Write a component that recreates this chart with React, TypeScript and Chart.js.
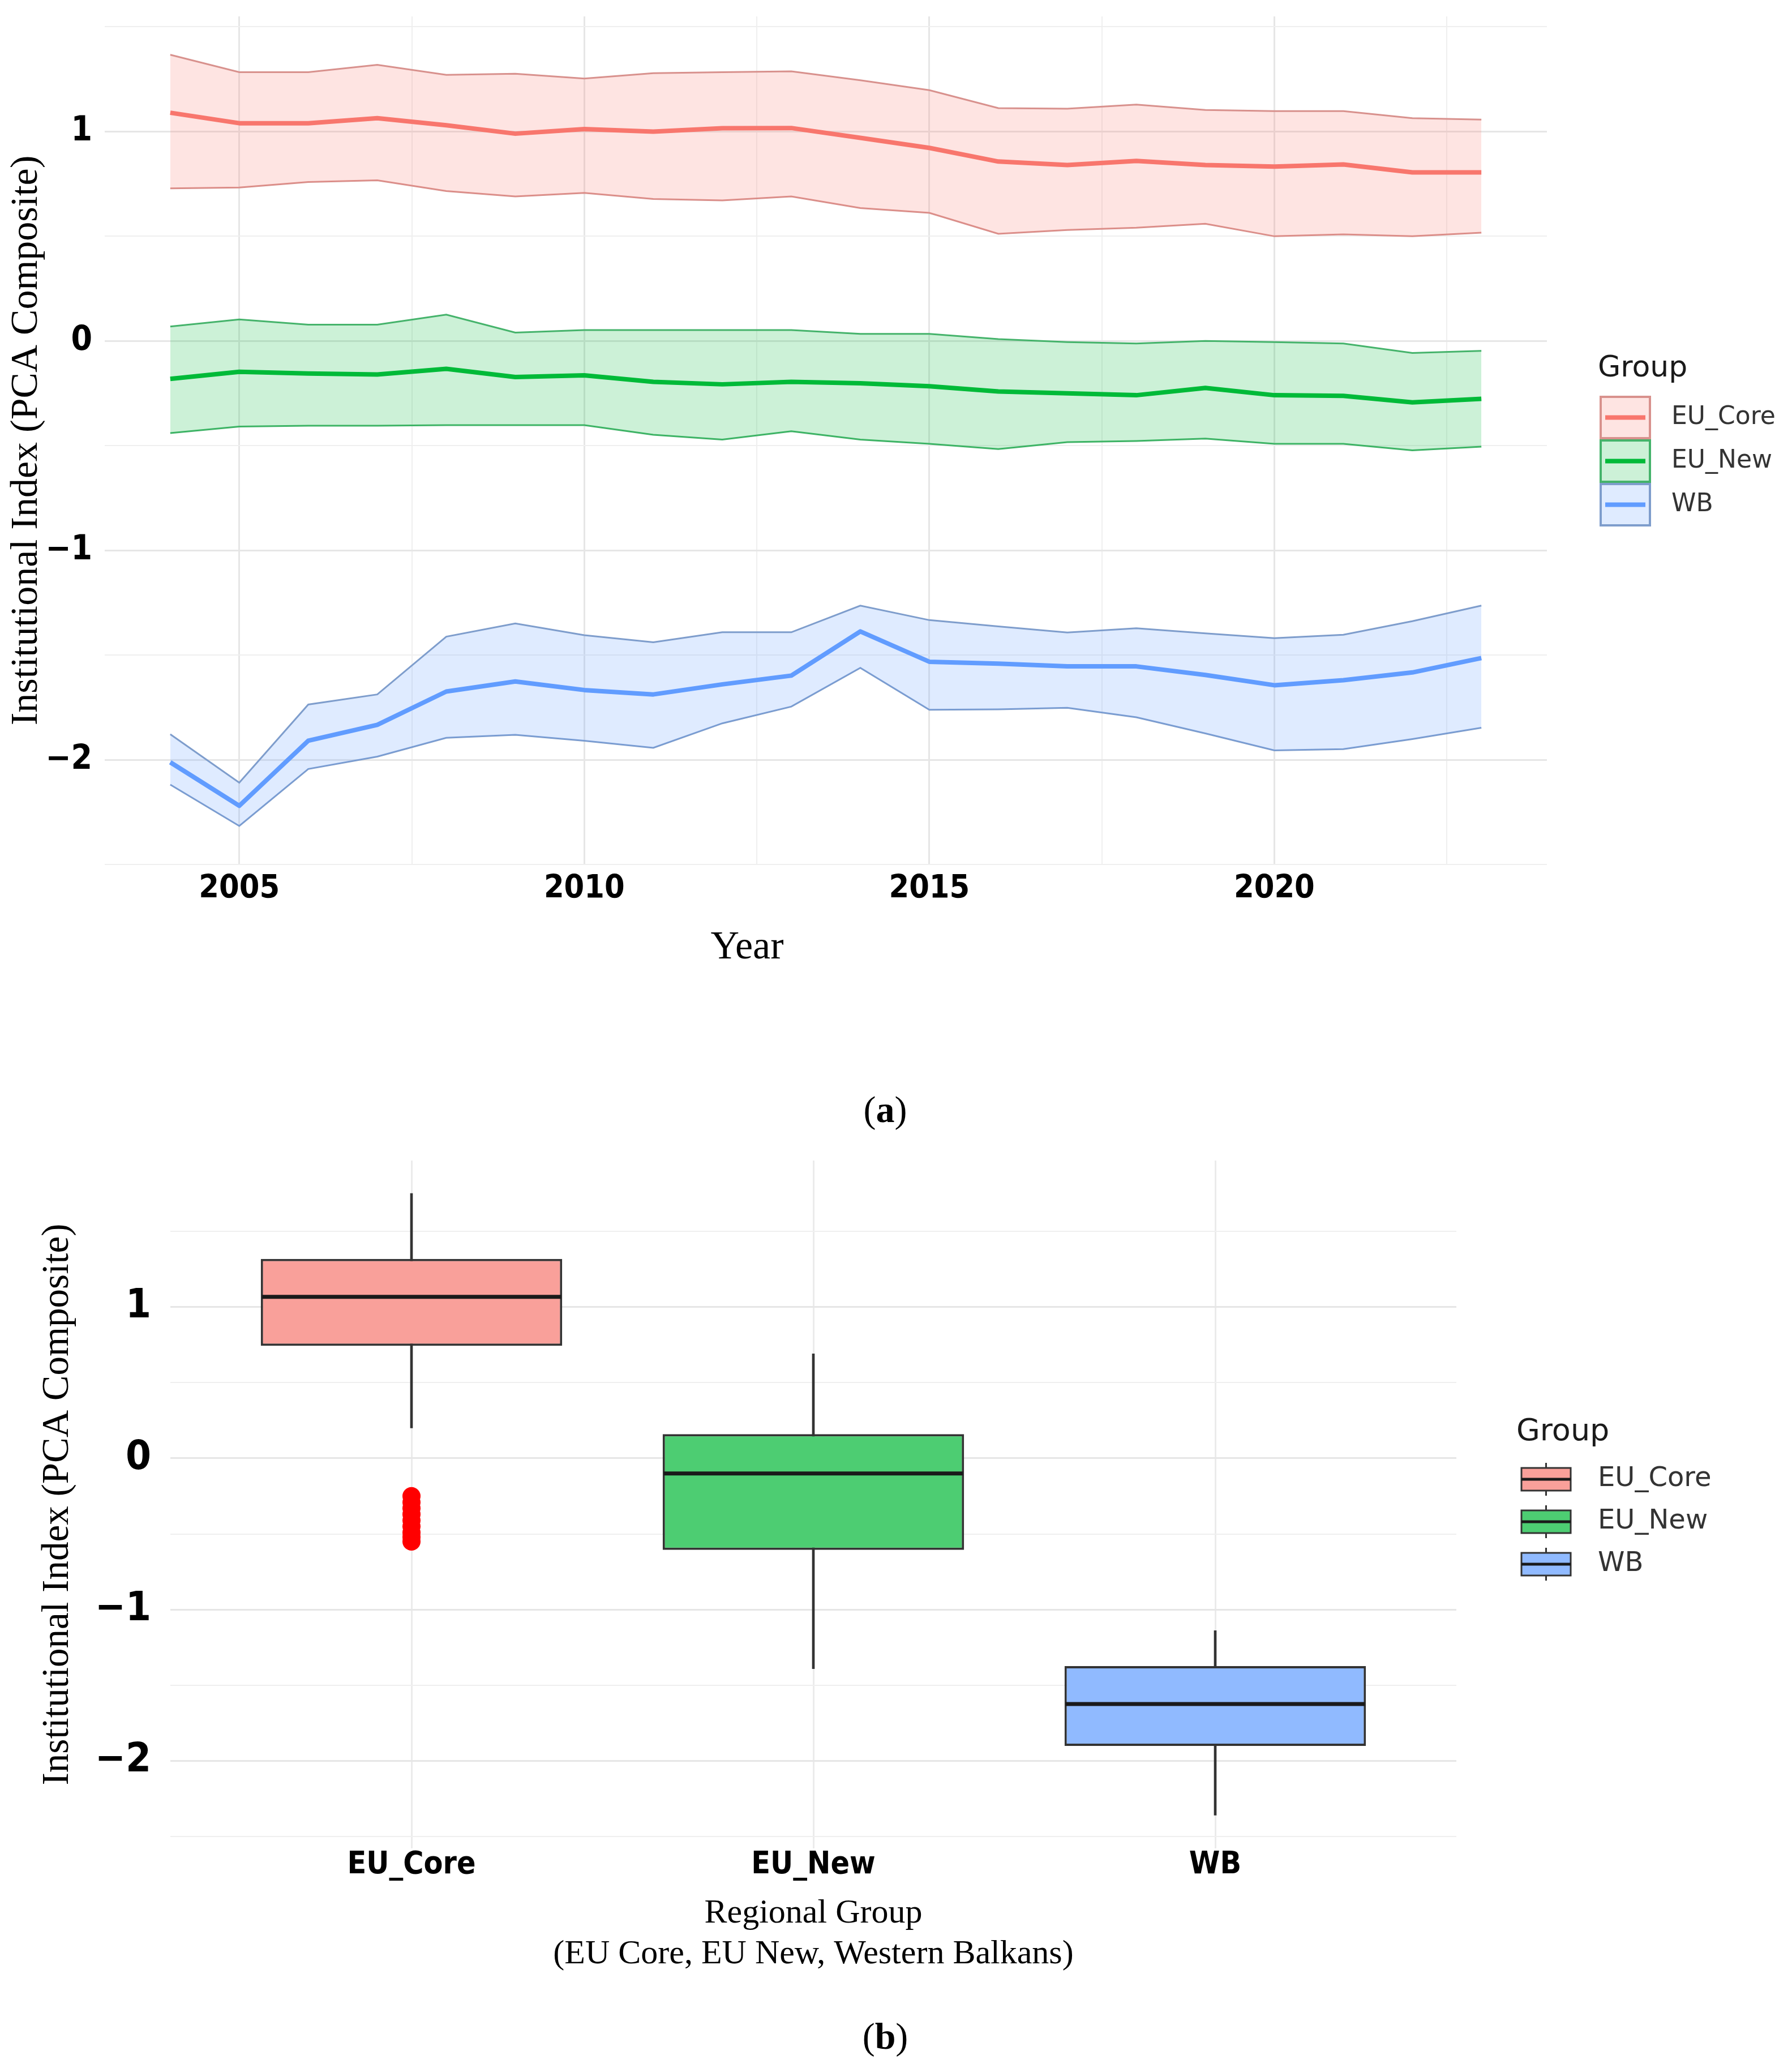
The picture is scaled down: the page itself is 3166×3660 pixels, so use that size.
import { useEffect, useRef } from 'react';
import { Chart, registerables } from 'chart.js';

Chart.register(...registerables);

// ---------- data ----------
const GROUPS = ['EU_Core', 'EU_New', 'WB'];
const LEGEND_TITLE = 'Group';
const Y_TITLE = 'Institutional Index (PCA Composite)';
const X_TITLE_A = 'Year';
const X_TITLE_B = ['Regional Group', '(EU Core, EU New, Western Balkans)'];

const YEARS = [2004, 2005, 2006, 2007, 2008, 2009, 2010, 2011, 2012, 2013, 2014, 2015, 2016, 2017, 2018, 2019, 2020, 2021, 2022, 2023];

const CORE_MEAN = [1.09, 1.04, 1.04, 1.064, 1.03, 0.99, 1.012, 1.0, 1.016, 1.017, 0.97, 0.922, 0.857, 0.84, 0.86, 0.84, 0.833, 0.843, 0.805, 0.805];
const CORE_UPPER = [1.367, 1.284, 1.284, 1.319, 1.271, 1.276, 1.253, 1.279, 1.284, 1.288, 1.245, 1.198, 1.112, 1.109, 1.129, 1.103, 1.098, 1.098, 1.064, 1.057];
const CORE_LOWER = [0.729, 0.733, 0.759, 0.767, 0.716, 0.69, 0.707, 0.678, 0.671, 0.69, 0.635, 0.612, 0.512, 0.53, 0.541, 0.56, 0.5, 0.509, 0.5, 0.517];

const NEW_MEAN = [-0.181, -0.147, -0.155, -0.16, -0.133, -0.172, -0.164, -0.195, -0.207, -0.195, -0.202, -0.216, -0.241, -0.25, -0.259, -0.224, -0.259, -0.262, -0.293, -0.276];
const NEW_UPPER = [0.069, 0.103, 0.078, 0.078, 0.126, 0.04, 0.052, 0.052, 0.052, 0.052, 0.034, 0.034, 0.009, -0.005, -0.012, 0.0, -0.005, -0.012, -0.057, -0.047];
const NEW_LOWER = [-0.44, -0.409, -0.405, -0.405, -0.402, -0.402, -0.402, -0.448, -0.471, -0.431, -0.471, -0.491, -0.516, -0.483, -0.478, -0.466, -0.491, -0.491, -0.522, -0.505];

const WB_MEAN = [-2.012, -2.22, -1.909, -1.833, -1.674, -1.626, -1.667, -1.688, -1.64, -1.598, -1.387, -1.532, -1.541, -1.554, -1.554, -1.595, -1.644, -1.62, -1.583, -1.514];
const WB_UPPER = [-1.878, -2.109, -1.736, -1.688, -1.412, -1.349, -1.405, -1.439, -1.391, -1.391, -1.264, -1.333, -1.363, -1.392, -1.372, -1.396, -1.419, -1.403, -1.338, -1.264];
const WB_LOWER = [-2.119, -2.316, -2.044, -1.985, -1.895, -1.881, -1.909, -1.943, -1.826, -1.746, -1.561, -1.761, -1.759, -1.752, -1.797, -1.874, -1.955, -1.949, -1.901, -1.847];

const YEAR_TICKS = [2005, 2007.5, 2010, 2012.5, 2015, 2017.5, 2020, 2022.5];
const VALUE_TICKS = [-2.5, -2, -1.5, -1, -0.5, 0, 0.5, 1, 1.5];

const BOX_LOW = [0.2, -1.39, -2.358];
const BOX_Q1 = [0.743, -0.605, -1.9];
const BOX_MEDIAN = [1.067, -0.1, -1.623];
const BOX_Q3 = [1.317, 0.16, -1.373];
const BOX_HIGH = [1.75, 0.69, -1.138];
const CORE_OUTLIERS = [-0.25, -0.29, -0.33, -0.37, -0.41, -0.45, -0.49, -0.52, -0.55];

// ---------- styles ----------
const LINE_COLORS = ['#F8766D', '#00BA38', '#619CFF'];
const RIBBON_FILLS = ['rgba(248,118,109,0.2)', 'rgba(0,186,56,0.2)', 'rgba(97,156,255,0.2)'];
const RIBBON_EDGES = ['#d8918d', '#45b36b', '#7e9dcc'];
const BOX_FILLS = ['#F9A09A', '#4DCD72', '#90BAFF'];
const OUTLINE = '#333333';

const NARROW = "'Liberation Sans Narrow', 'Arial Narrow', 'DejaVu Sans Condensed', 'Roboto Condensed', sans-serif";
const SERIF = "'Liberation Serif', 'Times New Roman', 'DejaVu Serif', serif";
const SANS = "'DejaVu Sans', 'Liberation Sans', sans-serif";

const fmtValue = (v: number) =>
  Number.isInteger(v) ? (v < 0 ? '\u2212' + Math.abs(v) : String(v)) : '';

const isMajorValue = (v: any) => typeof v === 'number' && Number.isInteger(v);
const isMajorYear = (v: any) => typeof v === 'number' && v % 5 === 0;

const gridFor = (isMajor: (v: any) => boolean) => ({
  color: (ctx: any) => (isMajor(ctx.tick?.value) ? '#e6e6e6' : '#efefef'),
  lineWidth: (ctx: any) => (isMajor(ctx.tick?.value) ? 3 : 2),
  drawTicks: false,
  offset: false,
});

// ---------- plugins ----------
const ribbonLegend = {
  id: 'ribbonLegend',
  afterDraw(chart: any) {
    const { ctx, chartArea } = chart;
    const x0 = chartArea.right + 93;
    const keyW = 91;
    const keyH = 77;
    const top0 = chartArea.top + 670;
    ctx.save();
    ctx.textBaseline = 'middle';
    ctx.textAlign = 'left';
    ctx.fillStyle = '#1a1a1a';
    ctx.font = `52px ${SANS}`;
    ctx.fillText(LEGEND_TITLE, chartArea.right + 90, chartArea.top + 622);
    GROUPS.forEach((g, i) => {
      const y = top0 + i * keyH;
      ctx.fillStyle = RIBBON_FILLS[i];
      ctx.fillRect(x0, y, keyW, keyH);
      ctx.strokeStyle = RIBBON_EDGES[i];
      ctx.lineWidth = 4;
      ctx.strokeRect(x0 + 2, y + 2, keyW - 4, keyH - 4);
      ctx.strokeStyle = LINE_COLORS[i];
      ctx.lineWidth = 8;
      ctx.beginPath();
      ctx.moveTo(x0 + 10, y + keyH / 2);
      ctx.lineTo(x0 + keyW - 10, y + keyH / 2);
      ctx.stroke();
      ctx.fillStyle = '#333';
      ctx.font = `44px ${SANS}`;
      ctx.fillText(g, chartArea.right + 220, y + keyH / 2);
    });
    // x-axis title (placed left of centre, as in the source figure)
    ctx.fillStyle = '#000';
    ctx.textAlign = 'center';
    ctx.font = `70px ${SERIF}`;
    ctx.fillText(X_TITLE_A, chartArea.left + 1135, chartArea.bottom + 148);
    ctx.restore();
  },
};

const boxExtras = {
  id: 'boxExtras',
  afterDatasetsDraw(chart: any) {
    const { ctx } = chart;
    const yScale = chart.scales.y;
    const meta = chart.getDatasetMeta(1);
    ctx.save();
    ctx.strokeStyle = '#1a1a1a';
    ctx.lineWidth = 7;
    meta.data.forEach((bar: any, i: number) => {
      const yy = yScale.getPixelForValue(BOX_MEDIAN[i]);
      ctx.beginPath();
      ctx.moveTo(bar.x - bar.width / 2 + 2, yy);
      ctx.lineTo(bar.x + bar.width / 2 - 2, yy);
      ctx.stroke();
    });
    ctx.restore();
  },
  afterDraw(chart: any) {
    const { ctx, chartArea } = chart;
    const x0 = chartArea.right + 115;
    const keyW = 87;
    ctx.save();
    ctx.textBaseline = 'middle';
    ctx.textAlign = 'left';
    ctx.fillStyle = '#1a1a1a';
    ctx.font = `54px ${SANS}`;
    ctx.fillText(LEGEND_TITLE, chartArea.right + 106, chartArea.top + 480);
    GROUPS.forEach((g, i) => {
      const cy = chartArea.top + 563 + i * 75;
      const cx = x0 + keyW / 2;
      ctx.strokeStyle = OUTLINE;
      ctx.lineWidth = 3;
      ctx.beginPath();
      ctx.moveTo(cx, cy - 29);
      ctx.lineTo(cx, cy - 20);
      ctx.moveTo(cx, cy + 20);
      ctx.lineTo(cx, cy + 29);
      ctx.stroke();
      ctx.fillStyle = BOX_FILLS[i];
      ctx.fillRect(x0, cy - 20, keyW, 40);
      ctx.strokeRect(x0, cy - 20, keyW, 40);
      ctx.lineWidth = 5;
      ctx.strokeStyle = '#1a1a1a';
      ctx.beginPath();
      ctx.moveTo(x0, cy);
      ctx.lineTo(x0 + keyW, cy);
      ctx.stroke();
      ctx.fillStyle = '#333';
      ctx.font = `48px ${SANS}`;
      ctx.fillText(g, chartArea.right + 250, cy);
    });
    ctx.restore();
  },
};

// ---------- configs ----------
function buildTop(): any {
  const series = [
    [CORE_UPPER, CORE_MEAN, CORE_LOWER],
    [NEW_UPPER, NEW_MEAN, NEW_LOWER],
    [WB_UPPER, WB_MEAN, WB_LOWER],
  ];
  const pts = (vals: number[]) => YEARS.map((x, i) => ({ x, y: vals[i] }));
  const datasets: any[] = [];
  series.forEach(([up, mean, low], g) => {
    datasets.push({
      label: GROUPS[g] + ' upper',
      data: pts(up),
      borderColor: RIBBON_EDGES[g],
      borderWidth: 3,
      backgroundColor: RIBBON_FILLS[g],
      fill: '+1',
      pointRadius: 0,
      tension: 0,
      order: 1,
    });
    datasets.push({
      label: GROUPS[g] + ' lower',
      data: pts(low),
      borderColor: RIBBON_EDGES[g],
      borderWidth: 3,
      fill: false,
      pointRadius: 0,
      tension: 0,
      order: 1,
    });
    datasets.push({
      label: GROUPS[g],
      data: pts(mean),
      borderColor: LINE_COLORS[g],
      borderWidth: 8,
      fill: false,
      pointRadius: 0,
      tension: 0,
      borderJoinStyle: 'round',
      order: 0,
    });
  });

  return {
    type: 'line',
    data: { datasets },
    plugins: [ribbonLegend],
    options: {
      animation: false,
      responsive: false,
      layout: { padding: { top: 29, right: 433, left: 0, bottom: 0 } },
      plugins: { legend: { display: false }, tooltip: { enabled: false } },
      scales: {
        x: {
          type: 'linear',
          min: 2003.05,
          max: 2023.95,
          offset: false,
          afterBuildTicks: (s: any) => {
            s.ticks = YEAR_TICKS.map((v) => ({ value: v }));
          },
          ticks: {
            autoSkip: false,
            maxRotation: 0,
            padding: 16,
            color: '#000',
            font: { family: NARROW, size: 57, weight: 'bold', lineHeight: 1 },
            callback: (v: any) => (v % 5 === 0 ? String(v) : ''),
          },
          grid: gridFor(isMajorYear),
          border: { display: false },
          title: { display: false, text: X_TITLE_A },
          afterFit: (s: any) => {
            s.height = 233;
            s.paddingLeft = 0;
            s.paddingRight = 0;
          },
        },
        y: {
          type: 'linear',
          min: -2.5,
          max: 1.55,
          afterBuildTicks: (s: any) => {
            s.ticks = VALUE_TICKS.map((v) => ({ value: v }));
          },
          ticks: {
            autoSkip: false,
            padding: 22,
            color: '#000',
            font: { family: NARROW, size: 60, weight: 'bold', lineHeight: 1 },
            callback: (v: any) => fmtValue(v),
          },
          grid: gridFor(isMajorValue),
          border: { display: false },
          title: {
            display: true,
            text: Y_TITLE,
            color: '#000',
            font: { family: SERIF, size: 68, lineHeight: 1.2 },
            padding: { top: 6, bottom: 0 },
          },
          afterFit: (s: any) => {
            s.width = 185;
            s.paddingTop = 0;
            s.paddingBottom = 0;
          },
        },
      },
    },
  };
}

function buildBottom(): any {
  const idx = GROUPS.map((_, i) => i);
  return {
    type: 'bar',
    data: {
      datasets: [
        {
          label: 'whiskers',
          data: idx.map((i) => ({ x: i, y: [BOX_LOW[i], BOX_HIGH[i]] })),
          backgroundColor: OUTLINE,
          borderWidth: 0,
          barThickness: 4,
          grouped: false,
          order: 2,
        },
        {
          label: 'boxes',
          data: idx.map((i) => ({ x: i, y: [BOX_Q1[i], BOX_Q3[i]] })),
          backgroundColor: BOX_FILLS,
          borderColor: OUTLINE,
          borderWidth: 4,
          borderSkipped: false,
          categoryPercentage: 1,
          barPercentage: 0.75,
          grouped: false,
          order: 1,
        },
        {
          type: 'scatter',
          label: 'outliers',
          data: CORE_OUTLIERS.map((y) => ({ x: 0, y })),
          backgroundColor: '#ff0000',
          borderWidth: 0,
          pointRadius: 16,
          order: 0,
        },
      ],
    },
    plugins: [boxExtras],
    options: {
      animation: false,
      responsive: false,
      layout: { padding: { top: 50, right: 593, left: 0, bottom: 0 } },
      plugins: { legend: { display: false }, tooltip: { enabled: false } },
      scales: {
        x: {
          type: 'linear',
          min: -0.6,
          max: 2.6,
          offset: false,
          afterBuildTicks: (s: any) => {
            s.ticks = idx.map((v) => ({ value: v }));
          },
          ticks: {
            autoSkip: false,
            maxRotation: 0,
            padding: 2,
            color: '#000',
            font: { family: NARROW, size: 55, weight: 'bold', lineHeight: 1 },
            callback: (v: any) => (GROUPS[v] !== undefined ? GROUPS[v] : ''),
          },
          grid: { color: '#ebebeb', lineWidth: 3, drawTicks: false, offset: false },
          border: { display: false },
          title: {
            display: true,
            text: X_TITLE_B,
            color: '#000',
            font: { family: SERIF, size: 60, lineHeight: 1.2 },
            padding: { top: 0, bottom: 72 },
          },
          afterFit: (s: any) => {
            s.height = 295;
            s.paddingLeft = 0;
            s.paddingRight = 0;
          },
        },
        y: {
          type: 'linear',
          min: -2.577,
          max: 1.967,
          afterBuildTicks: (s: any) => {
            s.ticks = VALUE_TICKS.map((v) => ({ value: v }));
          },
          ticks: {
            autoSkip: false,
            padding: 34,
            color: '#000',
            font: { family: NARROW, size: 72, weight: 'bold', lineHeight: 1 },
            callback: (v: any) => fmtValue(v),
          },
          grid: gridFor(isMajorValue),
          border: { display: false },
          title: {
            display: true,
            text: Y_TITLE,
            color: '#000',
            font: { family: SERIF, size: 67, lineHeight: 1.2 },
            padding: { top: 62, bottom: 0 },
          },
          afterFit: (s: any) => {
            s.width = 301;
            s.paddingTop = 0;
            s.paddingBottom = 0;
          },
        },
      },
    },
  };
}

export default function App() {
  const topRef = useRef<HTMLCanvasElement>(null);
  const bottomRef = useRef<HTMLCanvasElement>(null);

  useEffect(() => {
    const a = new Chart(topRef.current as HTMLCanvasElement, buildTop());
    const b = new Chart(bottomRef.current as HTMLCanvasElement, buildBottom());
    return () => {
      a.destroy();
      b.destroy();
    };
  }, []);

  const caption: any = {
    position: 'absolute',
    left: 0,
    width: 3128,
    textAlign: 'center',
    fontFamily: SERIF,
    fontSize: 66,
    lineHeight: '76px',
    color: '#000',
  };

  return (
    <div style={{ position: 'absolute', left: 0, top: 0, width: 3166, height: 3660, background: '#fff', overflow: 'hidden' }}>
      <canvas
        ref={topRef}
        width={3166}
        height={1760}
        style={{ position: 'absolute', left: 0, top: 0, width: 3166, height: 1760 }}
      />
      <div style={{ ...caption, top: 1922 }}>
        (<b>a</b>)
      </div>
      <canvas
        ref={bottomRef}
        width={3166}
        height={1560}
        style={{ position: 'absolute', left: 0, top: 2000, width: 3166, height: 1560 }}
      />
      <div style={{ ...caption, top: 3559 }}>
        (<b>b</b>)
      </div>
    </div>
  );
}
